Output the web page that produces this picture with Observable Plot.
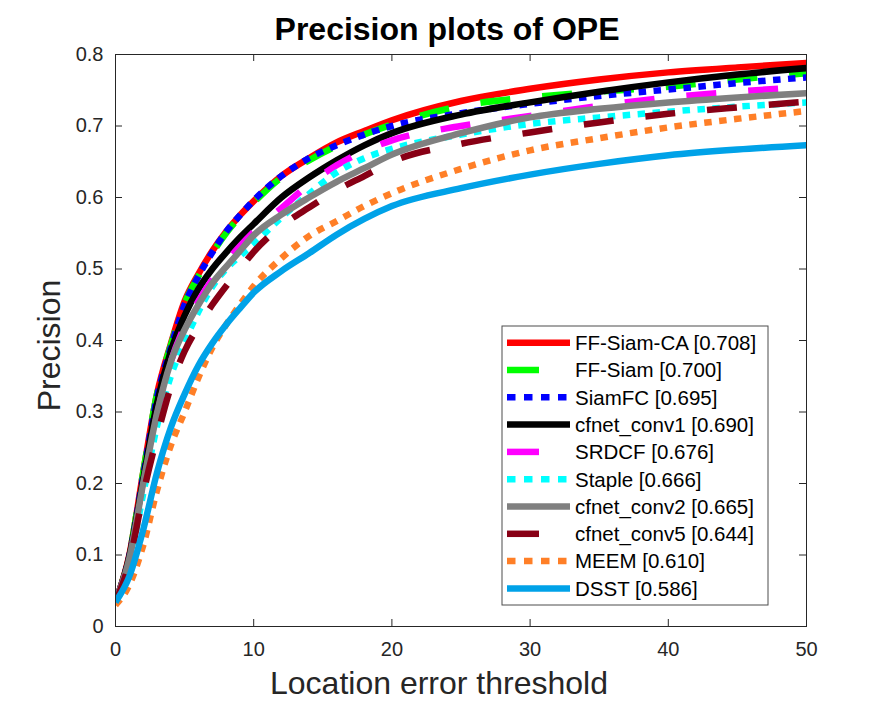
<!DOCTYPE html>
<html>
<head>
<meta charset="utf-8">
<script src="https://cdn.jsdelivr.net/npm/d3@7"></script>
<script src="https://cdn.jsdelivr.net/npm/@observablehq/plot@0.6"></script>
<style>
  body { margin: 0; background: #fff; }
  #chart { width: 892px; height: 705px; }
</style>
</head>
<body>
<div id="chart"></div>
<script>
// Location error thresholds (pixels) at which precision is sampled
const thresholds = [0, 1, 2, 3, 4, 5, 6, 7, 8, 9, 10, 12, 14, 16, 18, 20, 25, 30, 35, 40, 45, 50];

// Precision per tracker at each threshold
const ffSiamCA   = [0.034, 0.100, 0.215, 0.325, 0.395, 0.455, 0.493, 0.525, 0.552, 0.575, 0.595, 0.630, 0.655, 0.677, 0.693, 0.708, 0.735, 0.752, 0.765, 0.775, 0.782, 0.788];
const ffSiam     = [0.034, 0.100, 0.215, 0.325, 0.393, 0.452, 0.490, 0.522, 0.550, 0.573, 0.593, 0.628, 0.652, 0.672, 0.688, 0.702, 0.728, 0.740, 0.748, 0.755, 0.765, 0.774];
const siamFC     = [0.034, 0.098, 0.210, 0.320, 0.390, 0.450, 0.490, 0.523, 0.552, 0.575, 0.596, 0.630, 0.655, 0.673, 0.688, 0.700, 0.718, 0.731, 0.742, 0.751, 0.760, 0.768];
const cfnetConv1 = [0.034, 0.098, 0.205, 0.312, 0.385, 0.435, 0.472, 0.500, 0.523, 0.544, 0.563, 0.600, 0.628, 0.652, 0.673, 0.690, 0.716, 0.733, 0.748, 0.761, 0.772, 0.781];
const srdcf      = [0.034, 0.095, 0.195, 0.295, 0.370, 0.420, 0.455, 0.485, 0.510, 0.532, 0.552, 0.585, 0.618, 0.645, 0.665, 0.680, 0.700, 0.714, 0.728, 0.740, 0.748, 0.755];
const staple     = [0.034, 0.090, 0.185, 0.280, 0.350, 0.398, 0.440, 0.475, 0.500, 0.518, 0.535, 0.572, 0.605, 0.635, 0.655, 0.668, 0.688, 0.703, 0.712, 0.720, 0.727, 0.733];
const cfnetConv2 = [0.034, 0.095, 0.200, 0.298, 0.370, 0.415, 0.450, 0.480, 0.503, 0.525, 0.547, 0.576, 0.600, 0.622, 0.641, 0.660, 0.690, 0.712, 0.724, 0.733, 0.740, 0.746];
const cfnetConv5 = [0.034, 0.090, 0.185, 0.265, 0.335, 0.385, 0.420, 0.450, 0.476, 0.500, 0.524, 0.560, 0.586, 0.610, 0.630, 0.650, 0.675, 0.691, 0.705, 0.717, 0.726, 0.734];
const meem       = [0.030, 0.058, 0.113, 0.190, 0.253, 0.300, 0.348, 0.390, 0.422, 0.450, 0.476, 0.515, 0.546, 0.567, 0.588, 0.606, 0.640, 0.666, 0.683, 0.698, 0.710, 0.721];
const dsst       = [0.034, 0.070, 0.135, 0.215, 0.278, 0.325, 0.365, 0.396, 0.422, 0.445, 0.467, 0.497, 0.522, 0.548, 0.570, 0.588, 0.613, 0.632, 0.647, 0.659, 0.667, 0.673];

// Legend names and scores, in drawing order
const trackerNames = ["FF-Siam-CA", "FF-Siam", "SiamFC", "cfnet_conv1", "SRDCF", "Staple", "cfnet_conv2", "cfnet_conv5", "MEEM", "DSST"];
const trackerScores = ["0.708", "0.700", "0.695", "0.690", "0.676", "0.666", "0.665", "0.644", "0.610", "0.586"];
const trackerValues = [ffSiamCA, ffSiam, siamFC, cfnetConv1, srdcf, staple, cfnetConv2, cfnetConv5, meem, dsst];
const trackerColors = ["#ff0000", "#00ff00", "#0000ff", "#000000", "#ff00ff", "#00ffff", "#808080", "#880015", "#ff7f27", "#00a2e8"];
const trackerStyles = ["solid", "dashed", "dotted", "solid", "dashed", "dotted", "solid", "dashed", "dotted", "solid"];

const xTicks = [0, 10, 20, 30, 40, 50];
const yTicks = [0, 0.1, 0.2, 0.3, 0.4, 0.5, 0.6, 0.7, 0.8];

const titleText = "Precision plots of OPE";
const xLabel = "Location error threshold";
const yLabel = "Precision";

// Layout
const W = 892, H = 705;
const mL = 115, mR = 86, mT = 54, mB = 79;
const frameW = W - mL - mR, frameH = H - mT - mB;
const tickLen = 7;
const axisColor = "#262626";
const fontFamily = "'Liberation Sans', Arial, Helvetica, sans-serif";
const lineWidth = 6.5;
const dashFor = {solid: null, dashed: "30,32", dotted: "7.5,7.5"};
const legendDashFor = {solid: null, dashed: "32,40", dotted: "8.5,8.5"};

const series = trackerNames.map((name, i) => ({
  name,
  color: trackerColors[i],
  style: trackerStyles[i],
  rows: thresholds.map((t, j) => ({t, v: trackerValues[i][j]}))
}));

const chart = Plot.plot({
  width: W,
  height: H,
  marginLeft: mL,
  marginRight: mR,
  marginTop: mT,
  marginBottom: mB,
  style: {fontFamily, fontSize: "20px", color: axisColor, background: "#fff"},
  x: {domain: [0, 50]},
  y: {domain: [0, 0.8]},
  marks: [
    // Precision curves, later trackers drawn on top
    ...series.map(s => Plot.line(s.rows, {
      x: "t", y: "v",
      stroke: s.color,
      strokeWidth: lineWidth,
      strokeDasharray: dashFor[s.style],
      strokeLinecap: "butt",
      strokeLinejoin: "round",
      curve: "monotone-x",
      clip: true
    })),
    // Box with inward ticks on all four sides
    Plot.frame({stroke: axisColor, strokeWidth: 1}),
    Plot.tickX(xTicks, {x: d => d, insetTop: frameH - tickLen, stroke: axisColor}),
    Plot.tickX(xTicks, {x: d => d, insetBottom: frameH - tickLen, stroke: axisColor}),
    Plot.tickY(yTicks, {y: d => d, insetRight: frameW - tickLen, stroke: axisColor}),
    Plot.tickY(yTicks, {y: d => d, insetLeft: frameW - tickLen, stroke: axisColor}),
    Plot.axisX({ticks: xTicks, tickSize: 0, tickPadding: 15, tickFormat: d => String(d), label: null, fontSize: 20}),
    Plot.axisY({ticks: yTicks, tickSize: 0, tickPadding: 12, tickFormat: d => String(d), label: null, fontSize: 20}),
    // Title and axis labels
    Plot.text([titleText], {text: d => d, frameAnchor: "top", lineAnchor: "middle", textAnchor: "middle", dx: -14, dy: -25, fontSize: 32, fontWeight: "bold", fill: "#000"}),
    Plot.text([xLabel], {text: d => d, frameAnchor: "bottom", lineAnchor: "middle", textAnchor: "middle", dx: -22, dy: 57, fontSize: 32, fill: axisColor}),
    Plot.text([yLabel], {text: d => d, frameAnchor: "left", lineAnchor: "middle", textAnchor: "middle", dx: -66, dy: 5, rotate: -90, fontSize: 32, fill: axisColor})
  ]
});

document.getElementById("chart").appendChild(chart);

// Legend box in the lower right of the axes
const legend = d3.select(chart).append("g")
  .attr("font-family", fontFamily)
  .attr("font-size", 20.5)
  .attr("text-anchor", "start");
const lgX = 502, lgY = 326, lgW = 266, lgH = 279;
const rowY0 = 342.7, rowStep = 27.3;
legend.append("rect")
  .attr("x", lgX).attr("y", lgY).attr("width", lgW).attr("height", lgH)
  .attr("fill", "#fff").attr("stroke", "#4d4d4d").attr("stroke-width", 1);
series.forEach((s, i) => {
  const y = rowY0 + i * rowStep;
  legend.append("line")
    .attr("x1", 507).attr("x2", 570).attr("y1", y).attr("y2", y)
    .attr("stroke", s.color).attr("stroke-width", lineWidth)
    .attr("stroke-dasharray", legendDashFor[s.style]);
  legend.append("text")
    .attr("x", 575).attr("y", y + 7.3)
    .attr("text-anchor", "start")
    .attr("fill", "#000")
    .text(`${s.name} [${trackerScores[i]}]`);
});
</script>
</body>
</html>
